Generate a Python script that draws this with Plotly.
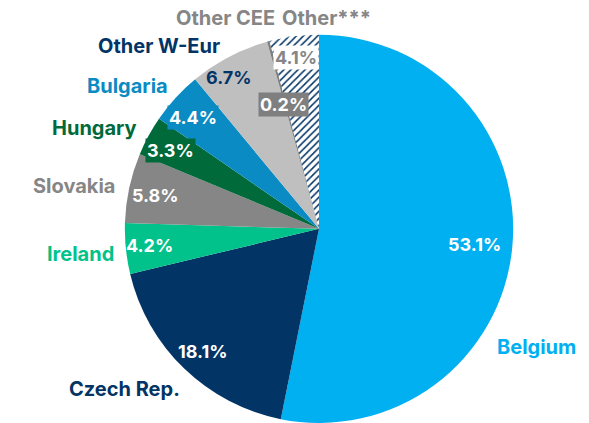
import plotly.graph_objects as go

# Share by country (clockwise from 12 o'clock)
countries = ["Belgium", "Czech Rep.", "Ireland", "Slovakia", "Hungary",
             "Bulgaria", "Other W-Eur", "Other CEE", "Other***"]
shares = [53.1, 18.1, 4.2, 5.8, 3.3, 4.4, 6.7, 0.2, 4.1]

slice_colors = ["#00B0F0", "#033466", "#00C28A", "#868686", "#006A3A",
                "#0A8BC3", "#BFBFBF", "#7F7F7F", "#FFFFFF"]
name_colors = ["#00B0F0", "#033466", "#00C28A", "#868686", "#006A3A",
               "#0A8BC3", "#033466", "#868686", "#868686"]

W, H = 589, 423
FONT = "Inter"

fig = go.Figure(go.Pie(
    labels=countries,
    values=shares,
    sort=False,
    direction="clockwise",
    rotation=0,
    textinfo="none",
    hoverinfo="label+percent",
    marker=dict(
        colors=slice_colors,
        line=dict(width=0),
        pattern=dict(
            shape=["", "", "", "", "", "", "", "", "/"],
            fgcolor="#033466",
            bgcolor="#FFFFFF",
            size=5,
            solidity=0.3,
        ),
    ),
    domain=dict(x=[(319 - 195) / W, (319 + 195) / W], y=[0, 0.918]),
    showlegend=False,
))


def px(x, y):
    return x / W, 1 - y / H


annotations = []

# Category names around the pie
name_pos = [(536, 347), (124, 389), (80, 254), (74, 186), (94, 128),
            (127, 86), (159, 46), (225, 18), (326, 18)]
for name, col, (x, y) in zip(countries, name_colors, name_pos):
    ax, ay = px(x, y)
    annotations.append(dict(
        x=ax, y=ay, xref="paper", yref="paper", text=name, showarrow=False,
        font=dict(family=FONT, size=20, color=col, weight="bold"),
        xanchor="center", yanchor="middle",
    ))

# Percentage labels on the slices
pct_pos = [(475, 245), (203, 351), (149, 246), (155, 195), (170, 150),
           (193, 118), (228, 77), (283, 104), (296, 58)]
pct_font = ["#FFFFFF", "#FFFFFF", "#FFFFFF", "#FFFFFF", "#FFFFFF",
            "#FFFFFF", "#033466", "#FFFFFF", "#868686"]
pct_bg = [None, None, None, None, "#006A3A", "#0A8BC3", None, "#7F7F7F", "#FFFFFF"]
for v, (x, y), fc, bg in zip(shares, pct_pos, pct_font, pct_bg):
    ax, ay = px(x, y)
    a = dict(
        x=ax, y=ay, xref="paper", yref="paper", text=f"{v:.1f}%", showarrow=False,
        font=dict(family=FONT, size=18, color=fc, weight="bold"),
        xanchor="center", yanchor="middle", borderpad=1,
    )
    if bg:
        a["bgcolor"] = bg
    annotations.append(a)

fig.update_layout(
    width=W, height=H,
    margin=dict(l=0, r=0, t=0, b=0),
    paper_bgcolor="#FFFFFF",
    plot_bgcolor="#FFFFFF",
    annotations=annotations,
)

fig.write_html("out.html")
